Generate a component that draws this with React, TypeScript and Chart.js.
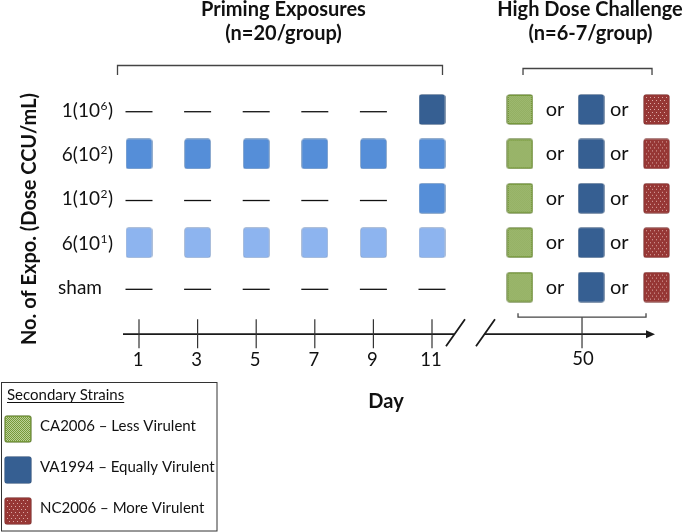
import React, { useEffect, useRef } from 'react';
import { Chart, registerables } from 'chart.js';

Chart.register(...registerables);

// ---------------- data ----------------
const days = [1, 3, 5, 7, 9, 11];
const challengeDay = 50;
const doseGroups = ['1(10^6)', '6(10^2)', '1(10^2)', '6(10^1)', 'sham'];
const doseCounts = ['1', '6', '1', '6', 'sham'];
const doseExponents = ['6', '2', '2', '1', ''];
const exposureDays = [[11], [1, 3, 5, 7, 9, 11], [11], [1, 3, 5, 7, 9, 11], []];
const exposureShade = ['dark', 'medium', 'medium', 'light', 'none'];
const strains = ['CA2006', 'VA1994', 'NC2006'];
const strainLabels = ['CA2006 – Less Virulent', 'VA1994 – Equally Virulent', 'NC2006 – More Virulent'];
const primingTitle = ['Priming Exposures', '(n=20/group)'];
const challengeTitle = ['High Dose Challenge', '(n=6-7/group)'];
const yTitle = 'No. of Expo. (Dose CCU/mL)';
const xTitle = 'Day';
const legendTitle = 'Secondary Strains';
const orWord = 'or';

// ---------------- layout ----------------
const W = 685;
const H = 532;
const PX_PER_DAY = 29.3;
const DAY1_PX = 139;
const X_MIN = 1 - DAY1_PX / PX_PER_DAY;
const X_MAX = X_MIN + W / PX_PER_DAY;
const ROW0_PX = 109.5;
const ROW_STEP = 44.4;
const Y_MIN = -ROW0_PX / ROW_STEP;
const Y_MAX = Y_MIN + H / ROW_STEP;
const CHALLENGE_POS = 16.12; // axis position of day 50 after the break
const STRAIN_OFFSET = [-2.12, 0.31, 2.54];
const OR_OFFSET = [-0.92, 1.27];
const AXIS_ROW = 5.06;
const FONT = 'Lato, "Open Sans", sans-serif';

const COLORS: Record<string, string> = {
  dark: '#365f92',
  medium: '#558ed8',
  light: '#8db4ef',
  CA2006: '#76983b',
  VA1994: '#365f92',
  NC2006: '#963735',
};

const axisPos = (d: number) => (d > 11 ? CHALLENGE_POS : d);

function roundRectPath(g: CanvasRenderingContext2D, x: number, y: number, w: number, h: number, r: number) {
  g.beginPath();
  g.moveTo(x + r, y);
  g.lineTo(x + w - r, y);
  g.quadraticCurveTo(x + w, y, x + w, y + r);
  g.lineTo(x + w, y + h - r);
  g.quadraticCurveTo(x + w, y + h, x + w - r, y + h);
  g.lineTo(x + r, y + h);
  g.quadraticCurveTo(x, y + h, x, y + h - r);
  g.lineTo(x, y + r);
  g.quadraticCurveTo(x, y, x + r, y);
  g.closePath();
}

function makeSwatch(kind: string, w: number, h: number): HTMLCanvasElement {
  const c = document.createElement('canvas');
  c.width = w;
  c.height = h;
  const g = c.getContext('2d')!;
  const base = COLORS[kind];
  roundRectPath(g, 0.5, 0.5, w - 1, h - 1, 2.5);
  g.fillStyle = base;
  g.fill();
  if (kind === 'CA2006') {
    g.fillStyle = '#bcd198';
    for (let yy = 2; yy < h - 2; yy++) {
      for (let xx = 2; xx < w - 2; xx++) {
        if ((xx + yy) % 2 === 0) g.fillRect(xx, yy, 1, 1);
      }
    }
  } else if (kind === 'NC2006') {
    g.fillStyle = '#dca9a6';
    let row = 0;
    for (let yy = 3; yy < h - 3; yy += 3) {
      for (let xx = 3 + (row % 2) * 2; xx < w - 3; xx += 4) {
        g.fillRect(xx, yy, 1, 1);
      }
      row++;
    }
  }
  roundRectPath(g, 0.5, 0.5, w - 1, h - 1, 2.5);
  g.strokeStyle = 'rgba(0,0,0,0.12)';
  g.lineWidth = 1;
  g.stroke();
  return c;
}

function drawDose(ctx: CanvasRenderingContext2D, i: number, xRight: number, yBase: number) {
  ctx.textAlign = 'left';
  ctx.textBaseline = 'alphabetic';
  if (!doseExponents[i]) {
    ctx.font = `19px ${FONT}`;
    const w = ctx.measureText(doseCounts[i]).width;
    ctx.fillText(doseCounts[i], xRight - 8 - w, yBase);
    return;
  }
  const a = `${doseCounts[i]}(10`;
  const b = doseExponents[i];
  const c = ')';
  ctx.font = `19px ${FONT}`;
  const wa = ctx.measureText(a).width;
  const wc = ctx.measureText(c).width;
  ctx.font = `12px ${FONT}`;
  const wb = ctx.measureText(b).width;
  const x0 = xRight - (wa + wb + wc);
  ctx.font = `19px ${FONT}`;
  ctx.fillText(a, x0, yBase);
  ctx.font = `12px ${FONT}`;
  ctx.fillText(b, x0 + wa + 0.5, yBase - 7);
  ctx.font = `19px ${FONT}`;
  ctx.fillText(c, x0 + wa + wb + 1, yBase);
}

const swatches: Record<string, HTMLCanvasElement> = {};
const legendSwatches: Record<string, HTMLCanvasElement> = {};

const diagramPlugin = {
  id: 'diagram',
  afterDatasetsDraw(chart: any) {
    const { ctx, scales } = chart;
    const X = (v: number) => scales.x.getPixelForValue(v);
    const Y = (v: number) => scales.y.getPixelForValue(v);
    ctx.save();
    ctx.fillStyle = '#111';
    ctx.strokeStyle = '#2a2a2a';

    // titles
    ctx.textAlign = 'center';
    ctx.textBaseline = 'alphabetic';
    ctx.font = `bold 20px ${FONT}`;
    ctx.fillText(primingTitle[0], 283.5, 16);
    ctx.fillText(primingTitle[1], 283.5, 40);
    ctx.fillText(challengeTitle[0], 590, 16);
    ctx.fillText(challengeTitle[1], 590.5, 40);

    // top brackets
    ctx.lineWidth = 1.3;
    ctx.strokeStyle = '#444';
    const bracket = (x1: number, x2: number, yb: number, yEnd: number) => {
      ctx.beginPath();
      ctx.moveTo(x1, yEnd);
      ctx.lineTo(x1, yb);
      ctx.lineTo(x2, yb);
      ctx.lineTo(x2, yEnd);
      ctx.stroke();
    };
    bracket(X(1) - 21.5, X(11) + 10.5, 65.5, 75);
    bracket(X(CHALLENGE_POS) - 59, X(CHALLENGE_POS) + 70, 68.5, 75);

    // row labels
    ctx.fillStyle = '#111';
    doseGroups.forEach((_, i) => {
      const xr = doseExponents[i] ? 112 : 110;
      drawDose(ctx, i, xr, Y(i) + 7);
    });

    // y title
    ctx.save();
    ctx.translate(30, 219);
    ctx.rotate(-Math.PI / 2);
    ctx.font = `bold 20px ${FONT}`;
    ctx.textAlign = 'center';
    ctx.textBaseline = 'middle';
    ctx.fillText(yTitle, 0, 0);
    ctx.restore();

    // "or" words
    ctx.font = `20px ${FONT}`;
    ctx.textAlign = 'center';
    ctx.textBaseline = 'middle';
    doseGroups.forEach((_, i) => {
      OR_OFFSET.forEach((o) => ctx.fillText(orWord, X(CHALLENGE_POS + o), Y(i)));
    });

    // timeline axis
    const ay = Y(AXIS_ROW);
    const x11 = X(11);
    ctx.strokeStyle = '#1a1a1a';
    ctx.lineWidth = 1.8;
    ctx.beginPath();
    ctx.moveTo(X(1) - 16, ay);
    ctx.lineTo(x11 + 22, ay);
    ctx.moveTo(x11 + 52, ay);
    ctx.lineTo(X(CHALLENGE_POS) + 66, ay);
    ctx.stroke();
    // arrowhead
    const tip = X(CHALLENGE_POS) + 73;
    ctx.fillStyle = '#1a1a1a';
    ctx.beginPath();
    ctx.moveTo(tip, ay);
    ctx.lineTo(tip - 9, ay - 4);
    ctx.lineTo(tip - 9, ay + 4);
    ctx.closePath();
    ctx.fill();
    // break slashes
    ctx.lineWidth = 1.8;
    ctx.beginPath();
    ctx.moveTo(x11 + 14, ay + 12);
    ctx.lineTo(x11 + 33, ay - 15);
    ctx.moveTo(x11 + 44, ay + 12);
    ctx.lineTo(x11 + 63, ay - 15);
    ctx.stroke();
    // ticks
    ctx.lineWidth = 1.2;
    ctx.strokeStyle = '#333';
    ctx.beginPath();
    days.forEach((d) => {
      ctx.moveTo(X(axisPos(d)), ay - 15);
      ctx.lineTo(X(axisPos(d)), ay + 14);
    });
    ctx.moveTo(X(axisPos(challengeDay)), ay - 17);
    ctx.lineTo(X(axisPos(challengeDay)), ay + 14);
    ctx.stroke();
    // challenge bracket
    ctx.strokeStyle = '#444';
    ctx.lineWidth = 1.3;
    ctx.beginPath();
    ctx.moveTo(X(CHALLENGE_POS) - 64, ay - 21);
    ctx.lineTo(X(CHALLENGE_POS) - 64, ay - 17);
    ctx.lineTo(X(CHALLENGE_POS) + 64, ay - 17);
    ctx.lineTo(X(CHALLENGE_POS) + 64, ay - 21);
    ctx.stroke();
    // tick labels
    ctx.fillStyle = '#111';
    ctx.font = `18.5px ${FONT}`;
    ctx.textAlign = 'center';
    ctx.textBaseline = 'alphabetic';
    days.forEach((d) => ctx.fillText(String(d), X(axisPos(d)) - 1, ay + 32));
    ctx.fillText(String(challengeDay), X(axisPos(challengeDay)) + 1, ay + 31);

    // x title
    ctx.font = `bold 20px ${FONT}`;
    ctx.fillText(xTitle, 386, 408);

    // legend box
    ctx.strokeStyle = '#333';
    ctx.lineWidth = 1;
    ctx.strokeRect(1.5, 382.5, 215.5, 148.5);
    ctx.textAlign = 'left';
    ctx.font = `15px ${FONT}`;
    ctx.fillText(legendTitle, 7, 399.5);
    const tw = ctx.measureText(legendTitle).width;
    ctx.lineWidth = 1;
    ctx.strokeStyle = '#111';
    ctx.beginPath();
    ctx.moveTo(7, 402.5);
    ctx.lineTo(7 + tw, 402.5);
    ctx.stroke();
    ctx.font = `15px ${FONT}`;
    ctx.textBaseline = 'middle';
    const legendY = [429, 470, 511];
    strains.forEach((s, k) => {
      ctx.drawImage(legendSwatches[s], 4, legendY[k] - 14);
      ctx.fillText(strainLabels[k], 40, legendY[k] - 3);
    });

    ctx.restore();
  },
};

function buildConfig(): any {
  ['dark', 'medium', 'light'].forEach((k) => (swatches[k] = makeSwatch(k, 27, 31)));
  strains.forEach((s) => {
    swatches[s] = makeSwatch(s, 27, 31);
    legendSwatches[s] = makeSwatch(s, 28, 28);
  });

  const shadeSets = ['dark', 'medium', 'light'].map((shade) => ({
    label: shade,
    data: doseGroups.flatMap((_, i) =>
      exposureShade[i] === shade ? exposureDays[i].map((d) => ({ x: axisPos(d), y: i })) : []
    ),
    pointStyle: swatches[shade],
    pointRadius: 14,
    showLine: false,
  }));

  const dashSet = {
    label: 'no exposure',
    data: doseGroups.flatMap((_, i) =>
      days.filter((d) => !exposureDays[i].includes(d)).map((d) => ({ x: axisPos(d), y: i + 0.05 }))
    ),
    pointStyle: 'line',
    pointRadius: 13.5,
    pointBorderWidth: 1.3,
    pointBorderColor: '#111',
    pointBackgroundColor: '#111',
    showLine: false,
  };

  const challengeSets = strains.map((s, k) => ({
    label: s,
    data: doseGroups.map((_, i) => ({ x: axisPos(challengeDay) + STRAIN_OFFSET[k], y: i })),
    pointStyle: swatches[s],
    pointRadius: 14,
    showLine: false,
  }));

  return {
    type: 'scatter',
    data: { datasets: [dashSet, ...shadeSets, ...challengeSets] },
    options: {
      responsive: false,
      animation: false,
      devicePixelRatio: 1,
      events: [],
      layout: { padding: 0, autoPadding: false },
      scales: {
        x: { type: 'linear', display: false, min: X_MIN, max: X_MAX },
        y: { type: 'linear', display: false, min: Y_MIN, max: Y_MAX, reverse: true },
      },
      plugins: { legend: { display: false }, tooltip: { enabled: false } },
    },
    plugins: [diagramPlugin],
  };
}

export default function App() {
  const ref = useRef<HTMLCanvasElement>(null);
  useEffect(() => {
    const chart = new Chart(ref.current!, buildConfig());
    return () => chart.destroy();
  }, []);
  return (
    <div style={{ position: 'absolute', left: 0, top: 0, width: W, height: H, background: '#fff' }}>
      <canvas ref={ref} width={W} height={H} style={{ display: 'block', width: W, height: H }} />
    </div>
  );
}
